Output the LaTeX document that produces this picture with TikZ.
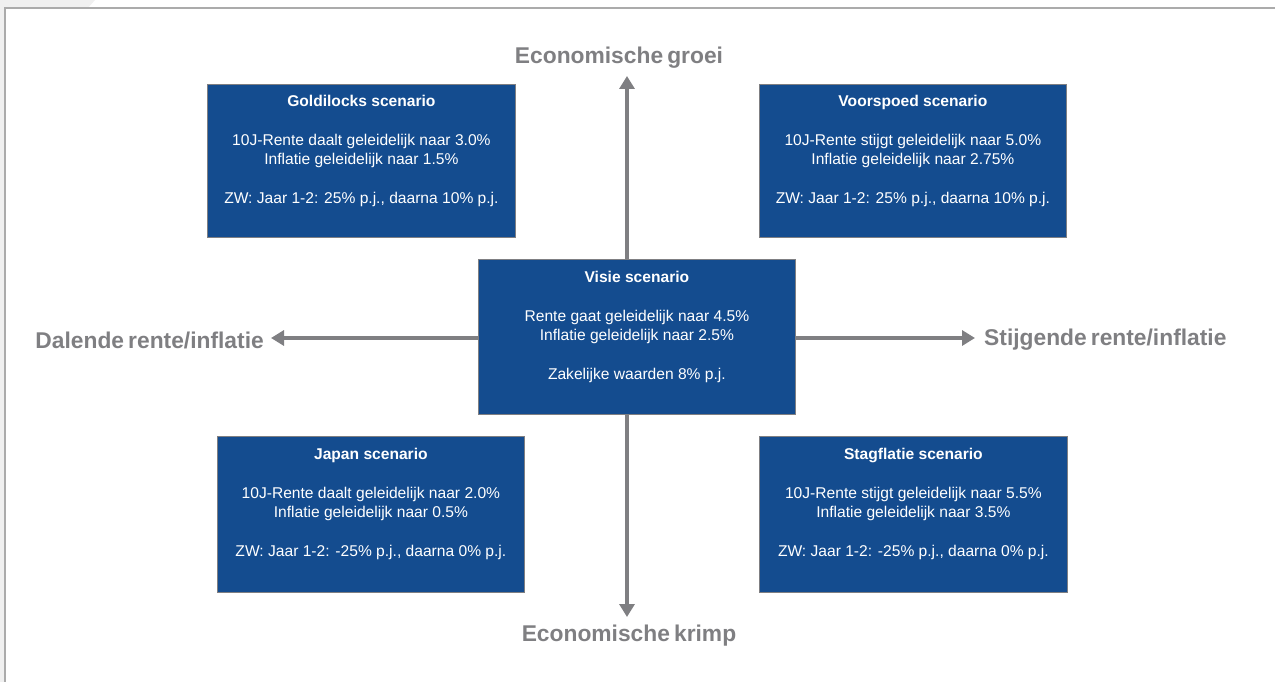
\documentclass[tikz,border=0pt]{standalone}
\usepackage{fontspec}
\setmainfont{Liberation Sans}
\usetikzlibrary{arrows.meta,calc}
\definecolor{boxblue}{HTML}{144C8F}
\definecolor{axisgray}{HTML}{7F7F82}
\definecolor{framegray}{HTML}{ABABAB}
\definecolor{bggray}{HTML}{F0F0F0}
\newcommand{\tightspace}{\spaceskip=0.18em\relax}
\tikzset{
  scen/.style={draw=axisgray, line width=0.8pt, fill=boxblue, inner sep=0pt, anchor=north west},
  scentext/.style={anchor=north, align=center, text=white, inner sep=0pt, font=\fontsize{15.6}{19.5}\selectfont},
  axislabel/.style={text=axisgray, font=\bfseries\fontsize{22.8}{26}\selectfont\tightspace, inner sep=0pt},
  axis/.style={draw=axisgray, line width=4pt, -{Triangle[width=15pt,length=13pt]}}
}
\begin{document}
\begin{tikzpicture}[x=1pt,y=-1pt]
\useasboundingbox (0,0) rectangle (1275,682);
% light background decoration
\fill[bggray] (0,0) -- (95,0) -- (88,8) -- (5,8) -- (5,682) -- (0,682) -- cycle;
% frame
\draw[framegray, line width=2pt] (5,682) -- (5,8.5) -- (1275,8.5);
% axes
\coordinate (c) at (627,338);
\coordinate (up) at (627,76);
\coordinate (down) at (627,617);
\coordinate (left) at (271,338);
\coordinate (right) at (975,338);
\draw[axis] (c) -- (up);
\draw[axis] (c) -- (down);
\draw[axis] (c) -- (left);
\draw[axis] (c) -- (right);
% axis labels
\node[axislabel] (groei) at (619,58) {Economische groei};
\node[axislabel] (krimp) at (629,636) {Economische krimp};
\node[axislabel, anchor=east] (dalend) at (264,340) {Dalende rente/inflatie};
\node[axislabel, anchor=west] (stijgend) at (984,340) {Stijgende rente/inflatie};
% boxes
\node[scen, minimum width=308pt, minimum height=153pt] (gold) at (207,84) {};
\node[scen, minimum width=307pt, minimum height=153pt] (voor) at (759,84) {};
\node[scen, minimum width=317pt, minimum height=155pt] (visie) at (478,259) {};
\node[scen, minimum width=307pt, minimum height=156pt] (japan) at (217,436) {};
\node[scen, minimum width=308pt, minimum height=156pt] (stag) at (759,436) {};
% texts
\node[scentext] (goldt) at ($(gold.north)+(0,10.5)$) {\textbf{Goldilocks scenario}\\[19.5pt]10J-Rente daalt geleidelijk naar 3.0\%\\Inflatie geleidelijk naar 1.5\%\\[19.5pt]ZW: Jaar 1-2: 25\% p.j., daarna 10\% p.j.};
\node[scentext] (voort) at ($(voor.north)+(0,10.5)$) {\textbf{Voorspoed scenario}\\[19.5pt]10J-Rente stijgt geleidelijk naar 5.0\%\\Inflatie geleidelijk naar 2.75\%\\[19.5pt]ZW: Jaar 1-2: 25\% p.j., daarna 10\% p.j.};
\node[scentext] (visiet) at ($(visie.north)+(0,11.5)$) {\textbf{Visie scenario}\\[19.5pt]Rente gaat geleidelijk naar 4.5\%\\Inflatie geleidelijk naar 2.5\%\\[19.5pt]Zakelijke waarden 8\% p.j.};
\node[scentext] (japant) at ($(japan.north)+(0,11.5)$) {\textbf{Japan scenario}\\[19.5pt]10J-Rente daalt geleidelijk naar 2.0\%\\Inflatie geleidelijk naar 0.5\%\\[19.5pt]ZW: Jaar 1-2: -25\% p.j., daarna 0\% p.j.};
\node[scentext] (stagt) at ($(stag.north)+(0,11.5)$) {\textbf{Stagflatie scenario}\\[19.5pt]10J-Rente stijgt geleidelijk naar 5.5\%\\Inflatie geleidelijk naar 3.5\%\\[19.5pt]ZW: Jaar 1-2: -25\% p.j., daarna 0\% p.j.};
\end{tikzpicture}
\end{document}
